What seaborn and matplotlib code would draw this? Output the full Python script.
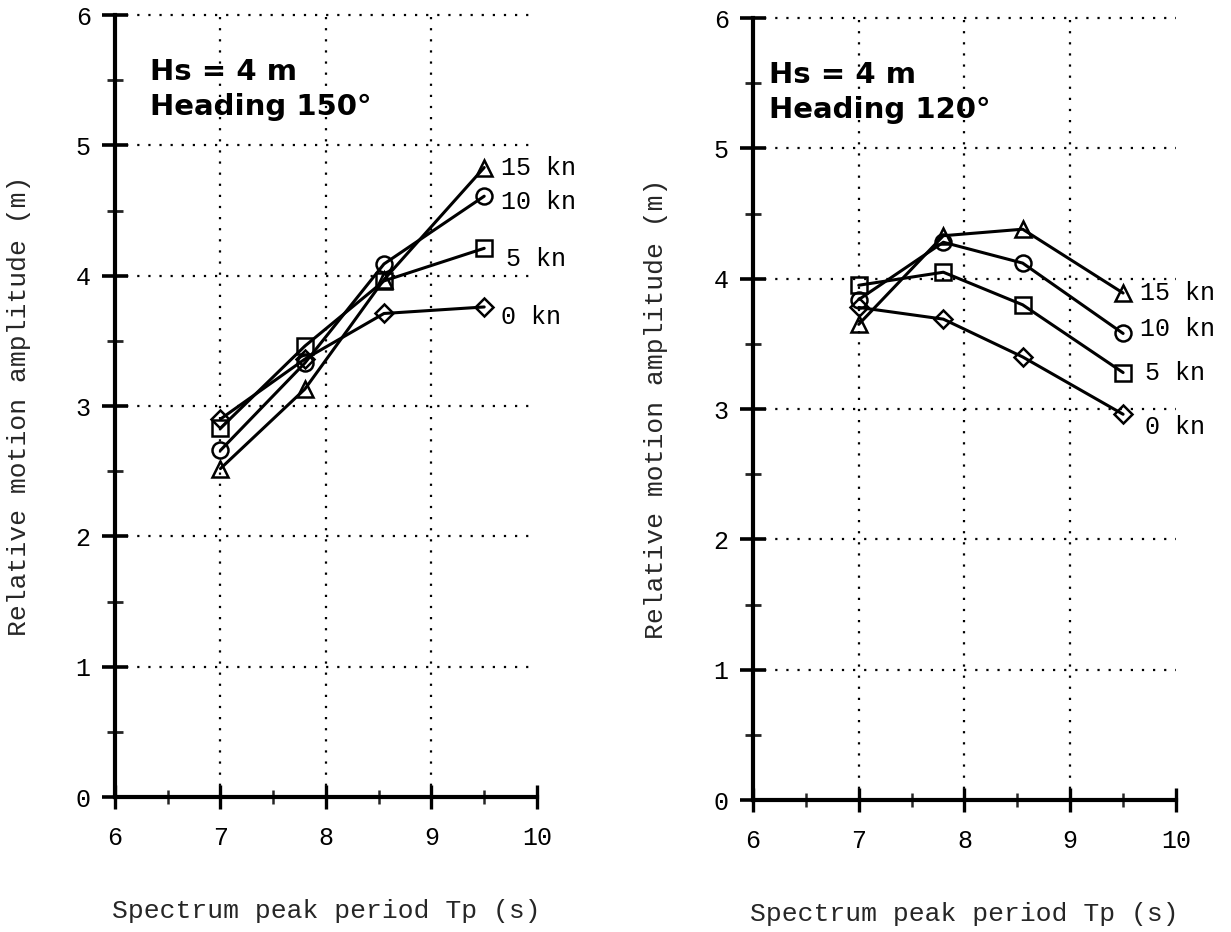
import numpy as np
import pandas as pd
import matplotlib
matplotlib.use("Agg")
import matplotlib.pyplot as plt
from matplotlib.ticker import MultipleLocator
import seaborn as sns

# Spectrum peak periods (s)
tp = [7.0, 7.8, 8.55, 9.5]
speeds = ["0 kn", "5 kn", "10 kn", "15 kn"]

# Relative motion amplitude (m), heading 150 deg
amp_150 = {
    "0 kn": [2.90, 3.36, 3.71, 3.76],
    "5 kn": [2.83, 3.46, 3.96, 4.21],
    "10 kn": [2.66, 3.33, 4.09, 4.61],
    "15 kn": [2.52, 3.13, 3.97, 4.83],
}
# Relative motion amplitude (m), heading 120 deg
amp_120 = {
    "0 kn": [3.78, 3.69, 3.40, 2.96],
    "5 kn": [3.95, 4.05, 3.80, 3.28],
    "10 kn": [3.84, 4.28, 4.12, 3.58],
    "15 kn": [3.65, 4.33, 4.38, 3.89],
}

x_ticks = [6, 7, 8, 9, 10]
y_ticks = [0, 1, 2, 3, 4, 5, 6]

sns.set_style("ticks")
plt.rcParams["font.family"] = ["Liberation Mono", "DejaVu Sans"]

markers = {"0 kn": "D", "5 kn": "s", "10 kn": "o", "15 kn": "^"}
marker_sizes = {"0 kn": 9.5, "5 kn": 11.5, "10 kn": 11.5, "15 kn": 11.5}

fig = plt.figure(figsize=(12.31, 9.32), dpi=100)
ax_l = fig.add_axes([0.0934, 0.1448, 0.3428, 0.8391])
ax_r = fig.add_axes([0.6117, 0.1416, 0.3436, 0.8390])

panels = [
    (ax_l, amp_150, "Hs = 4 m\nHeading 150\u00b0", 0.083,
     {"0 kn": (12, -7), "5 kn": (16, -8), "10 kn": (12, -4), "15 kn": (12, 0)}),
    (ax_r, amp_120, "Hs = 4 m\nHeading 120\u00b0", 0.038,
     {"0 kn": (16, -9), "5 kn": (16, 0), "10 kn": (12, 3), "15 kn": (12, 0)}),
]

for ax, amps, title, tx, offsets in panels:
    df = pd.DataFrame(
        [(t, a, s) for s in speeds for t, a in zip(tp, amps[s])],
        columns=["Tp", "amp", "speed"],
    )
    for s in speeds:
        sns.lineplot(
            data=df[df["speed"] == s], x="Tp", y="amp", ax=ax,
            color="black", linewidth=2.2, marker=markers[s],
            markersize=marker_sizes[s], markerfacecolor="none",
            markeredgecolor="black", markeredgewidth=1.8,
            legend=False, zorder=3,
        )
        ax.annotate(
            s, xy=(tp[-1], amps[s][-1]), xytext=offsets[s],
            textcoords="offset points", ha="left", va="center",
            fontsize=18, color="black", annotation_clip=False,
        )

    ax.set_xlim(6, 10)
    ax.set_ylim(0, 6)
    ax.set_xticks(x_ticks)
    ax.set_yticks(y_ticks)
    ax.xaxis.set_minor_locator(MultipleLocator(0.5))
    ax.yaxis.set_minor_locator(MultipleLocator(0.5))
    ax.tick_params(axis="x", which="major", direction="inout", length=17,
                   width=2.4, pad=12, labelsize=18, colors="black")
    ax.tick_params(axis="x", which="minor", direction="inout", length=10,
                   width=1.8)
    ax.tick_params(axis="y", which="major", direction="inout", length=19,
                   width=2.6, pad=8, labelsize=18, colors="black")
    ax.tick_params(axis="y", which="minor", direction="inout", length=12,
                   width=2.0)

    for side in ("top", "right"):
        ax.spines[side].set_visible(False)
    for side in ("left", "bottom"):
        ax.spines[side].set_linewidth(3)
        ax.spines[side].set_color("black")

    ax.grid(True, which="major", color="black", linewidth=1.6,
            linestyle=(0, (1, 4)))
    xg = ax.xaxis.get_gridlines()
    xg[0].set_visible(False)
    xg[-1].set_visible(False)
    yg = ax.yaxis.get_gridlines()
    yg[0].set_visible(False)
    for g in yg:
        g.set_clip_on(False)

    ax.set_xlabel("Spectrum peak period Tp (s)", fontsize=19)
    ax.set_ylabel("Relative motion amplitude (m)", fontsize=19)
    ax.xaxis.set_label_coords(0.5, -0.131)
    ax.yaxis.set_label_coords(-0.200, 0.5)

    ax.text(tx, 0.945, title, transform=ax.transAxes, ha="left", va="top",
            fontsize=21, fontweight="bold", family="DejaVu Sans",
            linespacing=1.3, color="black")

fig.savefig("out.png", dpi=100, facecolor="white")
